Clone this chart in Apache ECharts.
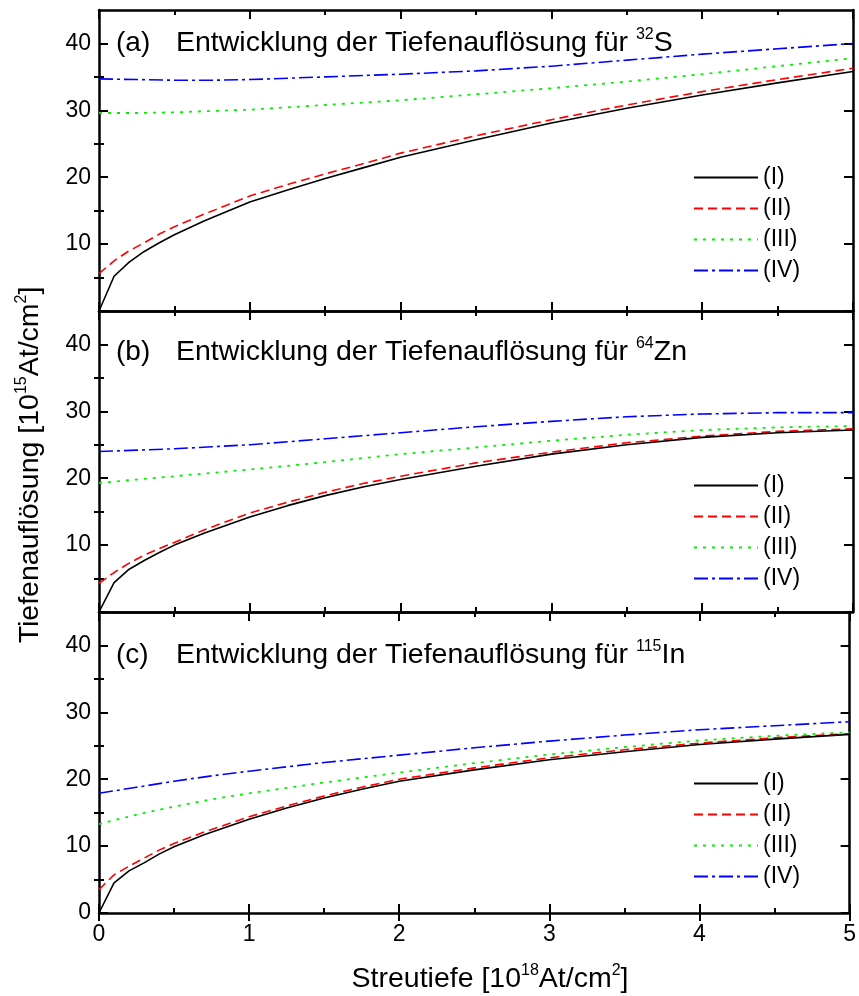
<!DOCTYPE html>
<html><head><meta charset="utf-8">
<script src="https://cdn.jsdelivr.net/npm/echarts@6/dist/echarts.min.js"></script>
<style>html,body{margin:0;padding:0;background:#fff}#c{width:859px;height:996px}</style>
</head><body><div id="c"></div>
<script>
// ---- data ----
const xFine   = [0,0.1,0.2,0.3,0.4,0.5,0.7,1,1.25,1.5,1.75,2,2.5,3,3.5,4,4.5,5];
const xCoarse = [0,0.25,0.5,0.75,1,1.5,2,2.5,3,3.5,4,4.5,5];

const a_I   = [0,5.2,7.3,8.9,10.2,11.4,13.5,16.3,18.1,19.8,21.4,23.0,25.6,28.1,30.3,32.3,34.1,35.8];
const a_II  = [5.6,7.5,9.0,10.2,11.5,12.6,14.5,17.2,18.9,20.5,22.0,23.6,26.2,28.6,30.8,32.8,34.6,36.3];
const a_III = [29.6,29.6,29.7,29.9,30.1,30.8,31.5,32.4,33.3,34.3,35.4,36.6,37.8];
const a_IV  = [34.7,34.6,34.5,34.5,34.6,35.0,35.4,35.9,36.6,37.5,38.4,39.2,40.0];

const b_I   = [0,4.4,6.4,7.7,8.9,10.0,11.8,14.2,15.9,17.4,18.7,19.8,21.8,23.6,25.0,26.1,26.8,27.2];
const b_II  = [4.3,5.9,7.3,8.5,9.5,10.4,12.3,14.8,16.4,17.9,19.2,20.3,22.3,23.9,25.3,26.3,27.0,27.4];
const b_III = [19.3,19.8,20.3,20.8,21.3,22.4,23.6,24.6,25.6,26.5,27.2,27.6,27.8];
const b_IV  = [24.0,24.2,24.4,24.7,25.0,25.9,26.8,27.7,28.5,29.2,29.6,29.8,29.8];

const c_I   = [0,4.5,6.3,7.5,8.8,9.9,11.7,14.0,15.7,17.2,18.5,19.7,21.4,22.9,24.1,25.2,26.0,26.7];
const c_II  = [3.5,5.7,7.0,8.2,9.4,10.4,12.1,14.4,16.0,17.5,18.8,20.0,21.7,23.2,24.4,25.4,26.2,26.8];
const c_III = [13.3,14.7,15.9,17.0,17.9,19.5,21.0,22.4,23.7,24.8,25.8,26.5,27.0];
const c_IV  = [17.9,18.8,19.7,20.5,21.2,22.5,23.6,24.7,25.7,26.6,27.4,28.0,28.6];

const seriesNames = ['(I)','(II)','(III)','(IV)'];
const panelLabels = ['(a)','(b)','(c)'];
const isoMass = ['32','64','115'];
const isoElem = ['S','Zn','In'];
const yMajorTicks = [0,10,20,30,40];
const yMinorTicks = [5,15,25,35];
const yLabelsTop = [10,20,30,40];
const yLabelsBottom = [0,10,20,30,40];

// ---- chart ----
const FONT = '"Liberation Sans", Arial, Helvetica, sans-serif';
const chart = echarts.init(document.getElementById('c'), null, {renderer:'canvas'});

const gridTops = [10, 311, 612];
const grid = gridTops.map(t => ({left: 99, right: 6, top: t, height: 301, containLabel: false}));

const panelData = [
  [a_I, a_II, a_III, a_IV],
  [b_I, b_II, b_III, b_IV],
  [c_I, c_II, c_III, c_IV]
];

const lineStyles = [
  {color: '#000000', width: 1.6, type: 'solid'},
  {color: '#ff0000', width: 1.6, type: [9, 5]},
  {color: '#00f000', width: 1.8, type: [3, 6]},
  {color: '#0000ff', width: 1.6, type: [14, 4, 3, 4]}
];

const axisLineStyle = {color: '#000', width: 2.5};
const xAxis = [];
const yAxis = [];
const series = [];

for (let i = 0; i < 3; i++) {
  const xb = xAxis.length;
  xAxis.push({
    gridIndex: i, type: 'value', min: 0, max: 5, interval: 1, position: 'bottom',
    axisLine: {show: true, onZero: false, lineStyle: axisLineStyle},
    axisTick: {show: true, inside: true, length: 9, lineStyle: {color: '#000', width: 2}},
    minorTick: {show: true, splitNumber: 2, length: 5, lineStyle: {color: '#000', width: 2}},
    axisLabel: {show: i === 2, fontSize: 23, color: '#000', fontFamily: FONT, margin: 10},
    splitLine: {show: false}
  });
  xAxis.push({
    gridIndex: i, type: 'value', min: 0, max: 5, interval: 1, position: 'top',
    axisLine: {show: true, onZero: false, lineStyle: axisLineStyle},
    axisTick: {show: true, inside: true, length: 9, lineStyle: {color: '#000', width: 2}},
    minorTick: {show: true, splitNumber: 2, length: 5, lineStyle: {color: '#000', width: 2}},
    axisLabel: {show: false}, splitLine: {show: false}
  });
  if (i === 2) {
    xAxis.push({
      gridIndex: i, type: 'value', min: 0, max: 5, interval: 1, position: 'bottom',
      axisLine: {show: false}, axisTick: {show: true, inside: false, length: 8, lineStyle: {color: '#000', width: 2}},
      axisLabel: {show: false}, splitLine: {show: false}
    });
  }
  const yl = yAxis.length;
  yAxis.push({
    gridIndex: i, type: 'value', min: 0, max: 45, position: 'left',
    axisLine: {show: true, onZero: false, lineStyle: axisLineStyle},
    axisTick: {show: true, inside: true, length: 9, customValues: yMajorTicks, lineStyle: {color: '#000', width: 2}},
    axisLabel: {show: true, customValues: i === 2 ? yLabelsBottom : yLabelsTop, fontSize: 23, color: '#000', fontFamily: FONT, margin: 8},
    splitLine: {show: false}
  });
  yAxis.push({
    gridIndex: i, type: 'value', min: 0, max: 45, position: 'left',
    axisLine: {show: false},
    axisTick: {show: true, inside: true, length: 5, customValues: yMinorTicks, lineStyle: {color: '#000', width: 2}},
    axisLabel: {show: false}, splitLine: {show: false}
  });
  yAxis.push({
    gridIndex: i, type: 'value', min: 0, max: 45, position: 'right',
    axisLine: {show: true, onZero: false, lineStyle: axisLineStyle},
    axisTick: {show: true, inside: true, length: 9, customValues: yMajorTicks, lineStyle: {color: '#000', width: 2}},
    axisLabel: {show: false}, splitLine: {show: false}
  });
  yAxis.push({
    gridIndex: i, type: 'value', min: 0, max: 45, position: 'right',
    axisLine: {show: false},
    axisTick: {show: true, inside: true, length: 5, customValues: yMinorTicks, lineStyle: {color: '#000', width: 2}},
    axisLabel: {show: false}, splitLine: {show: false}
  });

  panelData[i].forEach((vals, k) => {
    const xs = k < 2 ? xFine : xCoarse;
    series.push({
      name: seriesNames[k], type: 'line', xAxisIndex: xb, yAxisIndex: yl,
      data: xs.map((x, j) => [x, vals[j]]),
      symbol: 'none', smooth: false, silent: true, animation: false,
      itemStyle: {color: lineStyles[k].color},
      lineStyle: lineStyles[k], z: 5 - k
    });
  });
}

const legendTops = [166, 474, 772];
const legend = legendTops.map(t => ({
  orient: 'vertical', left: 693, top: t, padding: 0,
  itemWidth: 64, itemHeight: 14, itemGap: 8, selectedMode: false,
  data: seriesNames,
  itemStyle: {opacity: 0, borderWidth: 0},
  textStyle: {fontSize: 23, color: '#000', fontFamily: FONT, lineHeight: 22}
}));

const richMain = {fontSize: 28.5, fontFamily: FONT, fill: '#000', color: '#000', lineHeight: 32};
const richSup = {fontSize: 16, fontFamily: FONT, fill: '#000', color: '#000', lineHeight: 12, verticalAlign: 'top'};

const titleYs = [43, 352, 655];
const graphic = [];
for (let i = 0; i < 3; i++) {
  graphic.push({
    type: 'text', x: 116, y: titleYs[i], z: 100,
    style: {text: panelLabels[i], fontSize: 28, fontFamily: FONT, fill: '#000', align: 'left', verticalAlign: 'middle'}
  });
  graphic.push({
    type: 'text', x: 176, y: titleYs[i], z: 100,
    style: {
      text: '{m|Entwicklung der Tiefenauflösung für }{s|' + isoMass[i] + '}{m|' + isoElem[i] + '}',
      align: 'left', verticalAlign: 'middle',
      rich: {m: richMain, s: richSup}
    }
  });
}
graphic.push({
  type: 'text', x: 30, y: 465, rotation: Math.PI / 2, z: 100,
  style: {
    text: '{m|Tiefenauflösung [10}{s|15}{m|At/cm}{s|2}{m|]}',
    align: 'center', verticalAlign: 'middle',
    rich: {m: richMain, s: richSup}
  }
});
graphic.push({
  type: 'text', x: 490, y: 979, z: 100,
  style: {
    text: '{m|Streutiefe [10}{s|18}{m|At/cm}{s|2}{m|]}',
    align: 'center', verticalAlign: 'middle',
    rich: {m: richMain, s: richSup}
  }
});

chart.setOption({
  backgroundColor: '#fff',
  animation: false,
  textStyle: {fontFamily: FONT},
  grid, xAxis, yAxis, series, legend, graphic
});
</script>
</body></html>
